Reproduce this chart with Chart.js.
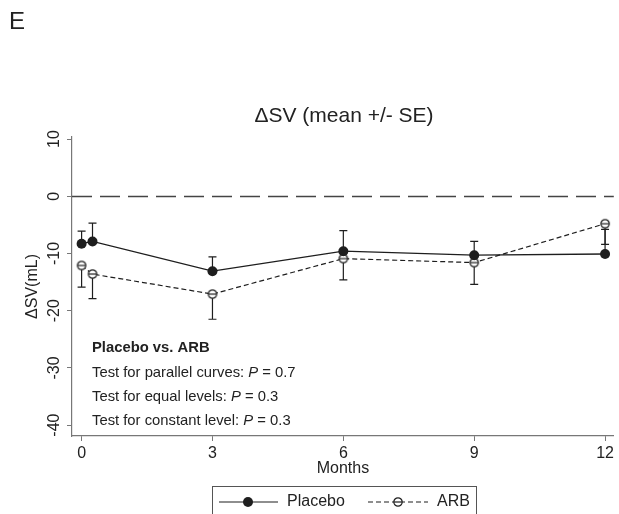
<!DOCTYPE html>
<html>
<head>
<meta charset="utf-8">
<script src="https://cdn.jsdelivr.net/npm/chart.js@4.4.1/dist/chart.umd.min.js"></script>
<style>
  html, body { margin:0; padding:0; background:#fff; }
  #wrap { width:619px; height:514px; }
</style>
</head>
<body>
<div id="wrap"><canvas id="chart" width="619" height="514"></canvas></div>
<script>
// data
const months = [0, 0.25, 3, 6, 9, 12]
const placebo = [-8.3, -7.9, -13.1, -9.6, -10.3, -10.1]
const placeboUpper = [-6.1, -4.7, -10.6, -6.0, -7.9, -5.8]
const arb = [-12.1, -13.6, -17.1, -10.9, -11.6, -4.8]
const arbLower = [-15.9, -17.9, -21.5, -14.6, -15.4, -8.4]
const xTicks = [0, 3, 6, 9, 12]
const yTicks = [10, 0, -10, -20, -30, -40]
const noteHead = 'Placebo vs. ARB'
const notes = [
  ['Test for parallel curves: ', '0.7'],
  ['Test for equal levels: ', '0.3'],
  ['Test for constant level: ', '0.3'],
]

const FONT = '"Liberation Sans", Arial, sans-serif'
const INK = '#1e1e1e'

// hollow circle with a bar through it, like the stata marker
function arbMarker() {
  const c = document.createElement('canvas')
  c.width = 12; c.height = 12
  const g = c.getContext('2d')
  g.beginPath(); g.arc(6, 6, 4.2, 0, Math.PI * 2)
  g.fillStyle = '#fff'; g.fill()
  g.lineWidth = 1.2; g.strokeStyle = INK; g.stroke()
  g.beginPath(); g.moveTo(2, 6); g.lineTo(10, 6); g.stroke()
  return c
}
const arbPoint = arbMarker()

const extras = {
  id: 'extras',
  beforeDatasetsDraw(chart) {
    const { ctx, chartArea: a, scales: { x, y } } = chart
    // zero reference line
    ctx.save()
    ctx.strokeStyle = '#444'; ctx.lineWidth = 1.5
    ctx.setLineDash([20, 8])
    const y0 = Math.round(y.getPixelForValue(0)) + 0.5
    ctx.beginPath(); ctx.moveTo(a.left, y0); ctx.lineTo(a.right, y0); ctx.stroke()
    ctx.setLineDash([])
    // error bars: placebo upward, ARB downward
    ctx.strokeStyle = INK; ctx.lineWidth = 1.2
    const bar = (m, v0, v1) => {
      const px = x.getPixelForValue(m), p0 = y.getPixelForValue(v0), p1 = y.getPixelForValue(v1)
      ctx.beginPath()
      ctx.moveTo(px, p0); ctx.lineTo(px, p1)
      ctx.moveTo(px - 4, p1); ctx.lineTo(px + 4, p1)
      ctx.stroke()
    }
    months.forEach((m, i) => { bar(m, placebo[i], placeboUpper[i]); bar(m, arb[i], arbLower[i]) })
    ctx.restore()
  },
  afterDraw(chart) {
    const { ctx } = chart
    ctx.save()
    ctx.fillStyle = '#222'
    ctx.textBaseline = 'middle'
    ctx.font = '24px ' + FONT
    ctx.fillText('E', 9, 22)
    ctx.textAlign = 'center'
    ctx.font = '21px ' + FONT
    ctx.fillText('\u0394SV (mean +/- SE)', 344, 116)

    // test results
    ctx.textAlign = 'left'
    ctx.font = 'bold 14.8px ' + FONT
    ctx.fillText(noteHead, 92, 348)
    notes.forEach((n, i) => {
      const ty = 372.5 + i * 24
      let tx = 92
      ctx.font = '14.8px ' + FONT
      ctx.fillText(n[0], tx, ty); tx += ctx.measureText(n[0]).width
      ctx.font = 'italic 14.8px ' + FONT
      ctx.fillText('P', tx, ty); tx += ctx.measureText('P').width
      ctx.font = '14.8px ' + FONT
      ctx.fillText(' = ' + n[1], tx, ty)
    })

    // legend box
    ctx.strokeStyle = '#555'; ctx.lineWidth = 1
    ctx.strokeRect(212.5, 486.5, 264, 40)
    const ly = 502
    const ds = chart.data.datasets
    ctx.strokeStyle = INK; ctx.lineWidth = 1.2
    ctx.beginPath(); ctx.moveTo(219, ly); ctx.lineTo(278, ly); ctx.stroke()
    ctx.fillStyle = INK
    ctx.beginPath(); ctx.arc(248, ly, 5, 0, Math.PI * 2); ctx.fill()
    ctx.setLineDash(ds[1].borderDash)
    ctx.beginPath(); ctx.moveTo(368, ly); ctx.lineTo(428, ly); ctx.stroke()
    ctx.setLineDash([])
    ctx.drawImage(arbPoint, 398 - 6, ly - 6)
    ctx.fillStyle = '#222'
    ctx.font = '16px ' + FONT
    ctx.fillText(ds[0].label, 287, ly)
    ctx.fillText(ds[1].label, 437, ly)
    ctx.restore()
  }
}

new Chart(document.getElementById('chart'), {
  type: 'line',
  data: {
    datasets: [
      {
        label: 'Placebo',
        data: months.map((m, i) => ({ x: m, y: placebo[i] })),
        borderColor: INK, borderWidth: 1.3,
        pointRadius: 5, pointBackgroundColor: INK, pointBorderColor: INK, pointBorderWidth: 0,
        tension: 0
      },
      {
        label: 'ARB',
        data: months.map((m, i) => ({ x: m, y: arb[i] })),
        borderColor: INK, borderWidth: 1.2, borderDash: [5, 3],
        pointStyle: arbPoint,
        tension: 0
      }
    ]
  },
  options: {
    responsive: false,
    animation: false,
    layout: { padding: { top: 137, right: 4, left: 0, bottom: 0 } },
    plugins: { legend: { display: false }, title: { display: false }, tooltip: { enabled: false } },
    scales: {
      x: {
        type: 'linear', min: -0.22, max: 12.2,
        afterBuildTicks: s => { s.ticks = xTicks.map(v => ({ value: v })) },
        afterFit: s => { s.height = 78 },
        border: { color: '#777', width: 1.2 },
        grid: { drawOnChartArea: false, color: '#777', tickLength: 5 },
        ticks: { color: '#222', font: { family: FONT, size: 16 }, padding: 3, maxRotation: 0 },
        title: { display: true, text: 'Months', color: '#222', font: { family: FONT, size: 16 }, padding: { top: 0, bottom: 36 } }
      },
      y: {
        min: -41.9, max: 10.35,
        afterBuildTicks: s => { s.ticks = yTicks.map(v => ({ value: v })) },
        afterFit: s => { s.width = 72 },
        border: { color: '#777', width: 1.2 },
        grid: { drawOnChartArea: false, color: '#777', tickLength: 5 },
        ticks: { color: '#222', font: { family: FONT, size: 16 }, padding: 1, minRotation: 90, maxRotation: 90, crossAlign: 'center' },
        title: { display: true, text: '\u0394SV(mL)', color: '#222', font: { family: FONT, size: 16 }, padding: { top: 23, bottom: 0 } }
      }
    }
  },
  plugins: [extras]
})
</script>
</body>
</html>
